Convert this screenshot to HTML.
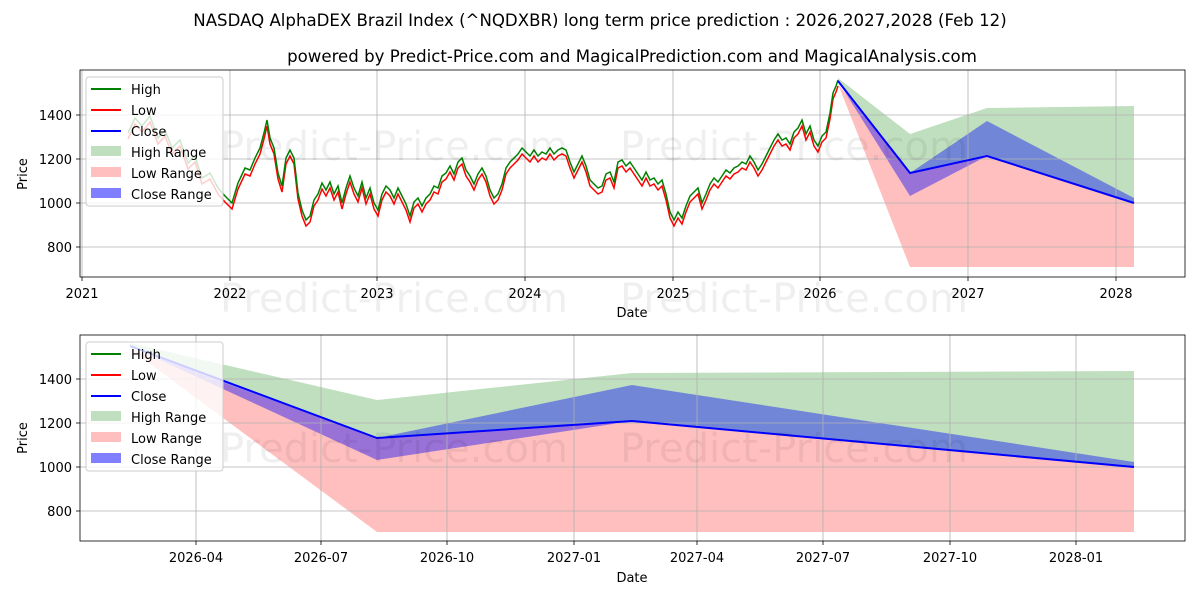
<!DOCTYPE html>
<html><head><meta charset="utf-8"><style>
body{margin:0;background:#fff;}
text{font-family:"DejaVu Sans","Liberation Sans",sans-serif;}
</style></head><body>
<svg width="1200" height="600" xmlns="http://www.w3.org/2000/svg">
<defs>
<polyline id="h" fill="none" stroke-width="1.5" points="128,135 135,120 142,128 150,118 158,140 165,132 172,150 180,142 188,165 195,158 202,180 210,175 218,190 225,198 232,205 238,185 245,170 250,172 255,160 260,150 264,135 267,122 270,140 274,150 278,175 282,188 286,160 290,152 294,160 298,195 302,212 306,222 310,218 314,202 318,196 322,185 326,192 330,184 334,196 338,188 342,205 346,190 350,178 354,190 358,198 362,184 366,200 370,190 374,205 378,212 382,196 386,188 390,192 394,200 398,190 402,198 406,206 410,218 414,204 418,200 422,208 426,200 430,196 434,188 438,190 442,178 446,175 450,168 454,176 458,164 462,160 466,172 470,178 474,186 478,176 482,170 486,178 490,192 494,200 498,196 502,186 506,170 510,164 514,160 518,156 522,150 526,154 530,158 534,152 538,158 542,154 546,156 550,150 554,156 558,152 562,150 566,152 570,164 574,174 578,166 582,158 586,168 590,182 594,186 598,190 602,188 606,176 610,174 614,184 618,164 622,162 626,168 630,164 634,170 638,176 642,182 646,174 650,182 654,180 658,186 662,182 666,196 670,214 674,222 678,214 682,220 686,208 690,198 694,194 698,190 702,205 706,196 710,186 714,180 718,184 722,178 726,172 730,175 734,170 738,168 742,164 746,166 750,158 754,164 758,172 762,166 766,158 770,150 774,142 778,136 782,142 786,140 790,146 794,134 798,130 802,122 806,136 810,128 814,142 818,148 822,138 826,134 830,115 833,95 836,88 838,82"/>
</defs>
<rect width="1200" height="600" fill="#fff"/>
<text x="600" y="26" font-size="16.6" text-anchor="middle">NASDAQ AlphaDEX Brazil Index (^NQDXBR) long term price prediction : 2026,2027,2028 (Feb 12)</text>
<text x="632" y="62" font-size="16.6" text-anchor="middle">powered by Predict-Price.com and MagicalPrediction.com and MagicalAnalysis.com</text>

<!-- top axes -->
<g>
<polygon points="838,78 910,134 987,108 1134,106 1134,203 987,156 910,173 838,81" fill="#008000" opacity="0.25"/>
<polygon points="838,84 910,267 1134,267 1134,203 987,156 910,173" fill="#ff0000" opacity="0.25"/>
<polygon points="838,81 910,196 987,156 1134,203 1134,198 987,121 910,173" fill="#0000ff" opacity="0.4"/>
<g stroke="#b0b0b0" stroke-width="0.8">
<line x1="82" y1="70" x2="82" y2="277"/><line x1="230" y1="70" x2="230" y2="277"/><line x1="377" y1="70" x2="377" y2="277"/><line x1="525" y1="70" x2="525" y2="277"/><line x1="673" y1="70" x2="673" y2="277"/><line x1="820" y1="70" x2="820" y2="277"/><line x1="968" y1="70" x2="968" y2="277"/><line x1="1116" y1="70" x2="1116" y2="277"/>
<line x1="80" y1="115" x2="1185" y2="115"/><line x1="80" y1="159" x2="1185" y2="159"/><line x1="80" y1="203" x2="1185" y2="203"/><line x1="80" y1="247" x2="1185" y2="247"/>
</g>
<use href="#h" stroke="#ff0000" transform="translate(0,4)"/>
<use href="#h" stroke="#008000" transform="translate(0,-2)"/>
<polyline points="838,81 910,173 987,156 1134,203" fill="none" stroke="#0000ff" stroke-width="2"/>
<text x="220" y="160" font-size="40" fill="#000" opacity="0.06">Predict-Price.com</text>
<text x="620" y="160" font-size="40" fill="#000" opacity="0.06">Predict-Price.com</text>
<text x="220" y="312" font-size="40" fill="#000" opacity="0.06">Predict-Price.com</text>
<text x="620" y="312" font-size="40" fill="#000" opacity="0.06">Predict-Price.com</text>
<rect x="80" y="70" width="1105" height="207" fill="none" stroke="#000" stroke-width="0.8"/>
<g font-size="13" text-anchor="end">
<text x="72" y="120">1400</text><text x="72" y="164">1200</text><text x="72" y="208">1000</text><text x="72" y="252">800</text>
</g>
<g font-size="13" text-anchor="middle">
<text x="82" y="298">2021</text><text x="230" y="298">2022</text><text x="377" y="298">2023</text><text x="525" y="298">2024</text><text x="673" y="298">2025</text><text x="820" y="298">2026</text><text x="968" y="298">2027</text><text x="1116" y="298">2028</text>
<text x="632" y="317">Date</text>
</g>
<g stroke="#000" stroke-width="0.8">
<line x1="82" y1="277" x2="82" y2="281"/><line x1="230" y1="277" x2="230" y2="281"/><line x1="377" y1="277" x2="377" y2="281"/><line x1="525" y1="277" x2="525" y2="281"/><line x1="673" y1="277" x2="673" y2="281"/><line x1="820" y1="277" x2="820" y2="281"/><line x1="968" y1="277" x2="968" y2="281"/><line x1="1116" y1="277" x2="1116" y2="281"/>
<line x1="76" y1="115" x2="80" y2="115"/><line x1="76" y1="159" x2="80" y2="159"/><line x1="76" y1="203" x2="80" y2="203"/><line x1="76" y1="247" x2="80" y2="247"/>
</g>
<text x="27" y="174" font-size="13" text-anchor="middle" transform="rotate(-90 27 174)">Price</text>
<g>
<rect x="86" y="77" width="137" height="129" rx="3" fill="#fff" fill-opacity="0.8" stroke="#ccc"/>
<line x1="91" y1="89" x2="121" y2="89" stroke="#008000" stroke-width="2"/><text x="131" y="94" font-size="13">High</text>
<line x1="91" y1="110" x2="121" y2="110" stroke="#ff0000" stroke-width="2"/><text x="131" y="115" font-size="13">Low</text>
<line x1="91" y1="131" x2="121" y2="131" stroke="#0000ff" stroke-width="2"/><text x="131" y="136" font-size="13">Close</text>
<rect x="91" y="146" width="30" height="10" fill="#008000" opacity="0.25"/><text x="131" y="157" font-size="13">High Range</text>
<rect x="91" y="167" width="30" height="10" fill="#ff0000" opacity="0.25"/><text x="131" y="178" font-size="13">Low Range</text>
<rect x="91" y="188" width="30" height="10" fill="#0000ff" opacity="0.5"/><text x="131" y="199" font-size="13">Close Range</text>
</g>
</g>

<!-- bottom axes -->
<g>
<polygon points="130,343 377,400 632,373 1134,371 1134,467 632,421 377,438 130,346" fill="#008000" opacity="0.25"/>
<polygon points="130,349 377,532 1134,532 1134,467 632,421 377,438" fill="#ff0000" opacity="0.25"/>
<polygon points="130,346 377,460 632,421 1134,467 1134,462 632,385 377,438" fill="#0000ff" opacity="0.4"/>
<g stroke="#b0b0b0" stroke-width="0.8">
<line x1="196" y1="335" x2="196" y2="541"/><line x1="321" y1="335" x2="321" y2="541"/><line x1="447" y1="335" x2="447" y2="541"/><line x1="574" y1="335" x2="574" y2="541"/><line x1="697" y1="335" x2="697" y2="541"/><line x1="823" y1="335" x2="823" y2="541"/><line x1="950" y1="335" x2="950" y2="541"/><line x1="1076" y1="335" x2="1076" y2="541"/>
<line x1="80" y1="379" x2="1185" y2="379"/><line x1="80" y1="423" x2="1185" y2="423"/><line x1="80" y1="467" x2="1185" y2="467"/><line x1="80" y1="511" x2="1185" y2="511"/>
</g>
<polyline points="130,346 377,438 632,421 1134,467" fill="none" stroke="#0000ff" stroke-width="2"/>
<text x="220" y="462" font-size="40" fill="#000" opacity="0.06">Predict-Price.com</text>
<text x="620" y="462" font-size="40" fill="#000" opacity="0.06">Predict-Price.com</text>
<rect x="80" y="335" width="1105" height="206" fill="none" stroke="#000" stroke-width="0.8"/>
<g font-size="13" text-anchor="end">
<text x="72" y="384">1400</text><text x="72" y="428">1200</text><text x="72" y="472">1000</text><text x="72" y="516">800</text>
</g>
<g font-size="13" text-anchor="middle">
<text x="196" y="562">2026-04</text><text x="321" y="562">2026-07</text><text x="447" y="562">2026-10</text><text x="574" y="562">2027-01</text><text x="697" y="562">2027-04</text><text x="823" y="562">2027-07</text><text x="950" y="562">2027-10</text><text x="1076" y="562">2028-01</text>
<text x="632" y="582">Date</text>
</g>
<g stroke="#000" stroke-width="0.8">
<line x1="196" y1="541" x2="196" y2="545"/><line x1="321" y1="541" x2="321" y2="545"/><line x1="447" y1="541" x2="447" y2="545"/><line x1="574" y1="541" x2="574" y2="545"/><line x1="697" y1="541" x2="697" y2="545"/><line x1="823" y1="541" x2="823" y2="545"/><line x1="950" y1="541" x2="950" y2="545"/><line x1="1076" y1="541" x2="1076" y2="545"/>
<line x1="76" y1="379" x2="80" y2="379"/><line x1="76" y1="423" x2="80" y2="423"/><line x1="76" y1="467" x2="80" y2="467"/><line x1="76" y1="511" x2="80" y2="511"/>
</g>
<text x="27" y="438" font-size="13" text-anchor="middle" transform="rotate(-90 27 438)">Price</text>
<g>
<rect x="86" y="342" width="137" height="129" rx="3" fill="#fff" fill-opacity="0.8" stroke="#ccc"/>
<line x1="91" y1="354" x2="121" y2="354" stroke="#008000" stroke-width="2"/><text x="131" y="359" font-size="13">High</text>
<line x1="91" y1="375" x2="121" y2="375" stroke="#ff0000" stroke-width="2"/><text x="131" y="380" font-size="13">Low</text>
<line x1="91" y1="396" x2="121" y2="396" stroke="#0000ff" stroke-width="2"/><text x="131" y="401" font-size="13">Close</text>
<rect x="91" y="411" width="30" height="10" fill="#008000" opacity="0.25"/><text x="131" y="422" font-size="13">High Range</text>
<rect x="91" y="432" width="30" height="10" fill="#ff0000" opacity="0.25"/><text x="131" y="443" font-size="13">Low Range</text>
<rect x="91" y="453" width="30" height="10" fill="#0000ff" opacity="0.5"/><text x="131" y="464" font-size="13">Close Range</text>
</g>
</g>
</svg>
</body></html>
